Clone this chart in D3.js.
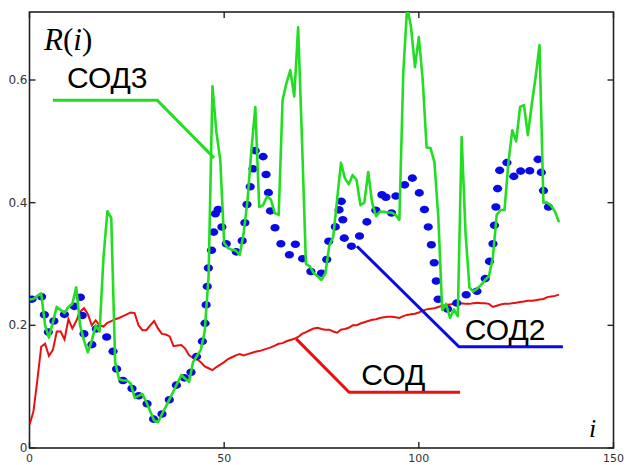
<!DOCTYPE html>
<html>
<head>
<meta charset="utf-8">
<script src="https://cdn.jsdelivr.net/npm/d3@7"></script>
<style>
body { margin: 0; background: #fff; }
svg { display: block; }
</style>
</head>
<body>
<svg id="chart"></svg>
<script>
// R(i) values, i = 0..136
var sod = [0.038, 0.059, 0.11, 0.165, 0.17, 0.15, 0.16, 0.19, 0.19, 0.177,
    0.21, 0.195, 0.207, 0.222, 0.228, 0.218, 0.2, 0.208, 0.2, 0.198,
    0.204, 0.207, 0.21, 0.212, 0.215, 0.218, 0.221, 0.22, 0.2, 0.192,
    0.192, 0.2, 0.207, 0.195, 0.186, 0.185, 0.182, 0.166, 0.167, 0.168,
    0.162, 0.151, 0.147, 0.145, 0.14, 0.133, 0.13, 0.127, 0.132, 0.136,
    0.14, 0.145, 0.148, 0.151, 0.153, 0.151, 0.153, 0.155, 0.157, 0.158,
    0.16, 0.162, 0.164, 0.167, 0.17, 0.171, 0.174, 0.176, 0.178, 0.181,
    0.186, 0.189, 0.192, 0.195, 0.196, 0.194, 0.193, 0.193, 0.19, 0.188,
    0.193, 0.194, 0.196, 0.2, 0.2, 0.203, 0.205, 0.207, 0.209, 0.21,
    0.212, 0.213, 0.214, 0.214, 0.213, 0.212, 0.215, 0.217, 0.218, 0.219,
    0.221, 0.224, 0.226, 0.227, 0.228, 0.23, 0.232, 0.233, 0.234, 0.235,
    0.235, 0.236, 0.235, 0.235, 0.236, 0.237, 0.236, 0.236, 0.235, 0.23,
    0.232, 0.234, 0.235, 0.235, 0.236, 0.237, 0.238, 0.239, 0.24, 0.24,
    0.241, 0.242, 0.243, 0.246, 0.247, 0.248, 0.25];

var sod2 = [0.242, 0.243, 0.246, 0.251, 0.21, 0.185, 0.205, 0.213, 0.216, 0.218,
    0.22, 0.23, 0.232, 0.25, 0.185, 0.17, 0.168, 0.195, 0.19, 0.186,
    0.18, 0.172, 0.14, 0.11, 0.11, 0.11, 0.105, 0.08, 0.085, 0.088,
    0.075, 0.06, 0.045, 0.042, 0.055, 0.067, 0.08, 0.093, 0.106, 0.119,
    0.113, 0.108, 0.14, 0.15, 0.16, 0.195, 0.3, 0.33, 0.4, 0.375,
    0.34, 0.327, 0.323, 0.32, 0.318, 0.35, 0.405, 0.435, 0.486, 0.49,
    0.475, 0.437, 0.38, 0.36, 0.345, 0.324, 0.318, 0.314, 0.335, 0.325,
    0.31, 0.3, 0.29, 0.282, 0.283, 0.285, 0.288, 0.345, 0.355, 0.365,
    0.41, 0.33, 0.327, 0.33, 0.331, 0.35, 0.362, 0.372, 0.38, 0.388,
    0.4, 0.425, 0.395, 0.383, 0.41, 0.418, 0.423, 0.44, 0.445, 0.43,
    0.418, 0.4, 0.375, 0.34, 0.3, 0.24, 0.235, 0.228, 0.224, 0.226,
    0.24, 0.249, 0.25, 0.249, 0.249, 0.256, 0.264, 0.275, 0.3, 0.33,
    0.41, 0.466, 0.466, 0.465, 0.448, 0.435, 0.45, 0.46, 0.452, 0.452,
    0.465, 0.474, 0.42, 0.395, 0.388, 0.386, 0.385];

var sod3 = [0.242, 0.243, 0.248, 0.252, 0.2, 0.18, 0.205, 0.23, 0.225, 0.22,
    0.23, 0.235, 0.262, 0.2, 0.175, 0.156, 0.175, 0.2, 0.19, 0.31,
    0.386, 0.375, 0.14, 0.112, 0.11, 0.11, 0.105, 0.082, 0.085, 0.088,
    0.075, 0.06, 0.045, 0.042, 0.055, 0.067, 0.08, 0.093, 0.106, 0.119,
    0.113, 0.108, 0.14, 0.15, 0.16, 0.19, 0.28, 0.59, 0.515, 0.47,
    0.334, 0.326, 0.323, 0.322, 0.315, 0.35, 0.404, 0.486, 0.556, 0.393,
    0.396, 0.41, 0.405, 0.383, 0.38, 0.567, 0.595, 0.616, 0.573, 0.686,
    0.5, 0.3, 0.296, 0.285, 0.28, 0.274, 0.285, 0.33, 0.344, 0.404,
    0.465, 0.44, 0.43, 0.445, 0.437, 0.396, 0.4, 0.45, 0.4, 0.378,
    0.385, 0.385, 0.384, 0.384, 0.38, 0.372, 0.611, 0.72, 0.686, 0.621,
    0.67, 0.6, 0.49, 0.489, 0.466, 0.377, 0.225, 0.235, 0.212, 0.226,
    0.215, 0.507, 0.35, 0.262, 0.255, 0.26, 0.266, 0.274, 0.28, 0.31,
    0.38, 0.388, 0.388, 0.465, 0.518, 0.5, 0.556, 0.559, 0.51, 0.56,
    0.605, 0.657, 0.4, 0.4, 0.395, 0.385, 0.368];

var xTicks = [0, 50, 100, 150];
var yTicks = [0, 0.2, 0.4, 0.6];
var seriesNames = ["СОД", "СОД2", "СОД3"];
// leader lines [i, R] and label anchor for each series
var leaderSod = [[68.5, 0.178], [82.1, 0.091], [110.6, 0.091]];
var leaderSod2 = [[84.1, 0.329], [110.3, 0.165], [137, 0.165]];
var leaderSod3 = [[6.0, 0.567], [32.8, 0.567], [47.4, 0.473]];
var labelPos = [[85.2, 0.102], [111.8, 0.176], [9.6, 0.587]];

var W = 624, H = 465;
var svg = d3.select('svg#chart')
    .attr("width", W)
    .attr("height", H);

var x = d3.scaleLinear().domain([0, 150]).range([29.5, 613.5]);
var y = d3.scaleLinear().domain([0, 0.6]).range([448, 80]);
var yTop = y.invert(12);

svg.append("defs").append("clipPath").attr("id", "plot")
    .append("rect")
    .attr("x", x(0)).attr("y", y(yTop))
    .attr("width", x(150) - x(0)).attr("height", y(0) - y(yTop));

// frame
svg.append("rect")
    .attr("x", x(0)).attr("y", y(yTop))
    .attr("width", x(150) - x(0)).attr("height", y(0) - y(yTop))
    .attr("fill", "none").attr("stroke", "#222").attr("stroke-width", 1.6);

// ticks, all pointing inward
var tl = 6;
var tickG = svg.append("g").attr("stroke", "#222").attr("stroke-width", 1.4);
xTicks.forEach(function (t) {
    tickG.append("line").attr("x1", x(t)).attr("x2", x(t)).attr("y1", y(0)).attr("y2", y(0) - tl);
    tickG.append("line").attr("x1", x(t)).attr("x2", x(t)).attr("y1", y(yTop)).attr("y2", y(yTop) + tl);
});
yTicks.forEach(function (t) {
    tickG.append("line").attr("x1", x(0)).attr("x2", x(0) + tl).attr("y1", y(t)).attr("y2", y(t));
    tickG.append("line").attr("x1", x(150)).attr("x2", x(150) - tl).attr("y1", y(t)).attr("y2", y(t));
});

svg.selectAll("text.xt").data(xTicks).enter()
    .append("text")
    .attr("class", "xt")
    .attr("x", function (d) { return x(d); })
    .attr("y", 462)
    .attr("text-anchor", "middle")
    .attr("font-family", "DejaVu Sans")
    .attr("font-size", 11)
    .attr("fill", "#333")
    .text(function (d) { return d; });

svg.selectAll("text.yt").data(yTicks).enter()
    .append("text")
    .attr("class", "yt")
    .attr("x", x(0) - 2)
    .attr("y", function (d) { return y(d) + 4; })
    .attr("text-anchor", "end")
    .attr("font-family", "DejaVu Sans")
    .attr("font-size", 12)
    .attr("fill", "#333")
    .text(function (d) { return d; });

var idx = d3.range(sod.length);
var line = d3.line()
    .x(function (d) { return x(d[0]); })
    .y(function (d) { return y(d[1]); });
function pairs(vals) {
    return idx.map(function (i) { return [i, vals[i]]; });
}

var plot = svg.append("g").attr("clip-path", "url(#plot)");

plot.append("path")
    .attr("d", line(pairs(sod)))
    .attr("fill", "none").attr("stroke", "#e81010").attr("stroke-width", 2);

// СОД2 drawn as a dotted trace: dots spaced evenly along the curve
function dotsAlong(pts, step, k, offset) {
    var out = [], next = offset, acc = 0;
    for (var j = 1; j < pts.length; j++) {
        var x0 = pts[j - 1][0], y0 = pts[j - 1][1], x1 = pts[j][0], y1 = pts[j][1];
        var dx = x1 - x0, dy = (y1 - y0) * k;
        var len = Math.sqrt(dx * dx + dy * dy);
        while (next <= acc + len) {
            var t = len ? (next - acc) / len : 0;
            out.push([x0 + t * (x1 - x0), y0 + t * (y1 - y0)]);
            next += step;
        }
        acc += len;
    }
    return out;
}
var bluePx = pairs(sod2).map(function (d) { return [x(d[0]), y(d[1])]; });
plot.selectAll("ellipse.dot").data(dotsAlong(bluePx, 11.5, 0.62, 2.5)).enter()
    .append("ellipse")
    .attr("class", "dot")
    .attr("cx", function (d) { return d[0]; })
    .attr("cy", function (d) { return d[1]; })
    .attr("rx", 4.6).attr("ry", 3.8)
    .attr("fill", "#0a0ae6");

plot.append("path")
    .attr("d", line(pairs(sod3)))
    .attr("fill", "none").attr("stroke", "#22dd22").attr("stroke-width", 2.6)
    .attr("stroke-linejoin", "round");

// leaders and labels
var leaders = [[leaderSod, "#e81010"], [leaderSod2, "#0a0ae6"], [leaderSod3, "#22dd22"]];
leaders.forEach(function (l) {
    svg.append("path")
        .attr("d", line(l[0]))
        .attr("fill", "none").attr("stroke", l[1]).attr("stroke-width", 3);
});

svg.selectAll("text.lab").data(seriesNames).enter()
    .append("text")
    .attr("class", "lab")
    .attr("x", function (d, i) { return x(labelPos[i][0]); })
    .attr("y", function (d, i) { return y(labelPos[i][1]); })
    .attr("font-family", "Liberation Sans")
    .attr("font-size", 30)
    .attr("fill", "#000")
    .text(function (d) { return d; });

// axis names
var rl = svg.append("text")
    .attr("x", 44).attr("y", 50)
    .attr("font-family", "Liberation Serif")
    .attr("font-size", 31)
    .attr("fill", "#000");
rl.append("tspan").attr("font-style", "italic").text("R");
rl.append("tspan").text("(");
rl.append("tspan").attr("font-style", "italic").text("i");
rl.append("tspan").text(")");

svg.append("text")
    .attr("x", 589).attr("y", 437)
    .attr("font-family", "Liberation Serif")
    .attr("font-style", "italic")
    .attr("font-size", 26)
    .attr("fill", "#000")
    .text("i");
</script>
</body>
</html>
